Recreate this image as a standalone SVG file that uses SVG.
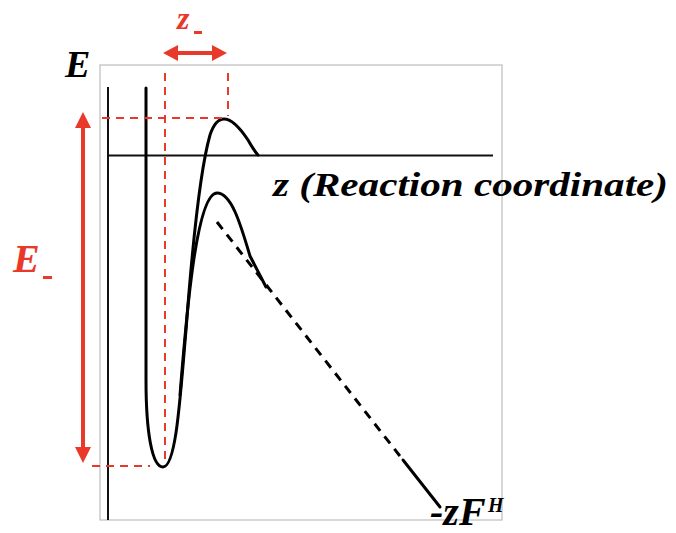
<svg xmlns="http://www.w3.org/2000/svg" width="676" height="533" viewBox="0 0 676 533">
<style>
.frame{fill:none;stroke:#bdbdbd;stroke-width:1.2}
.axis{fill:none;stroke:#111;stroke-width:2}
.curve{fill:none;stroke:#000;stroke-width:3;stroke-linecap:round;stroke-linejoin:round}
.dash{fill:none;stroke:#000;stroke-width:3;stroke-dasharray:9 7}
.rdash{fill:none;stroke:#e8392b;stroke-width:2;stroke-dasharray:8 6}
.rline{fill:none;stroke:#e8392b;stroke-width:4}
.rfill{fill:#e8392b}
.lbl{font-family:"Liberation Serif","Times New Roman",serif;font-weight:bold;font-style:italic}
</style>
<rect width="676" height="533" fill="#fff"/>
<g id="frame">
<rect class="frame" x="100" y="65" width="402" height="455"/>
</g>
<g id="axes">
<line class="axis" x1="108" y1="87" x2="108" y2="520"/>
<line class="axis" x1="108" y1="155.5" x2="493" y2="155.5"/>
</g>
<g id="connectors">
<path class="curve" d="M146,88 L146,380 C146,432 152,467 163,467 C176,467 180,400 186,330 C192,250 200,170 210,135 C214,123 219,119 224,119 C232,119 240,128 248,140 C252,147 255,152 258,155"/>
<path class="curve" d="M180,395 C186,320 196,193 217,193 C231,193 240,222 250,256 L266,287"/>
<path class="dash" d="M217,222 L403,460"/>
<path class="curve" d="M403,460 L440,507"/>
</g>
<g id="red-guides">
<path class="rdash" d="M102,118 L222,118"/>
<path class="rdash" d="M165,73 L165,460"/>
<path class="rdash" d="M228,73 L228,116"/>
<path class="rdash" d="M92,466 L150,466"/>
</g>
<g id="arrow-z">
<line class="rline" x1="175" y1="53" x2="215" y2="53"/>
<polygon class="rfill" points="163,53 178,45 178,61"/>
<polygon class="rfill" points="227,53 212,45 212,61"/>
</g>
<g id="arrow-E">
<line class="rline" x1="83" y1="125" x2="83" y2="450"/>
<polygon class="rfill" points="83,112 75,128 91,128"/>
<polygon class="rfill" points="83,463 75,447 91,447"/>
</g>
<g id="label-E">
<text class="lbl" x="65" y="77" font-size="38" fill="#000">E</text>
</g>
<g id="label-z-minus">
<text class="lbl" x="177" y="29" font-size="32" fill="#e8392b">z</text>
<rect class="rfill" x="194" y="31" width="8" height="3"/>
</g>
<g id="label-E-minus">
<text class="lbl" x="13" y="272" font-size="40" fill="#e8392b">E</text>
<rect class="rfill" x="43" y="276" width="9" height="3"/>
</g>
<g id="label-axis">
<text class="lbl" x="273" y="196" font-size="33" fill="#000" textLength="395" lengthAdjust="spacingAndGlyphs">z (Reaction coordinate)</text>
</g>
<g id="label-zF">
<text class="lbl" x="430" y="525" font-size="40" fill="#000">-zF</text>
<text class="lbl" x="488" y="512" font-size="20" fill="#000">H</text>
</g>
</svg>
